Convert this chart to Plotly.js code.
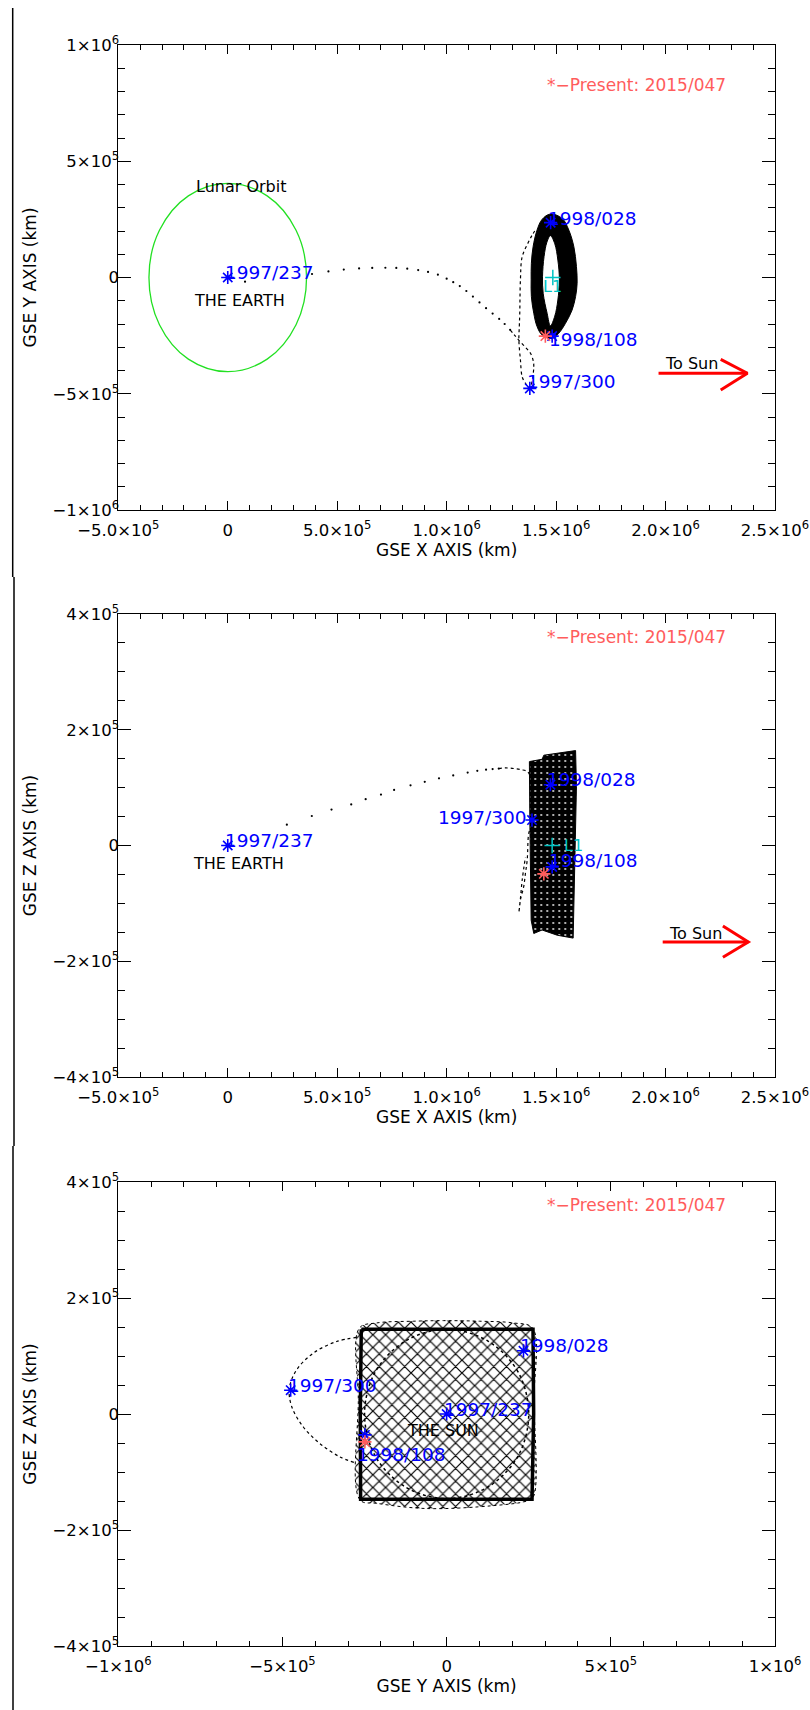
<!DOCTYPE html>
<html><head><meta charset="utf-8">
<script src="https://cdn.plot.ly/plotly-3.0.1.min.js"></script>
<style>html,body{margin:0;padding:0;background:#fff;} #chart{width:810px;height:1710px;}</style>
</head><body><div id="chart"></div>
<script>
// ---------- tick labels ----------
const xTickVals = [-5e5, 0, 5e5, 1e6, 1.5e6, 2e6, 2.5e6];
const xTickText = ['−5.0×10<sup>5</sup>', '0', '5.0×10<sup>5</sup>', '1.0×10<sup>6</sup>', '1.5×10<sup>6</sup>', '2.0×10<sup>6</sup>', '2.5×10<sup>6</sup>'];
const p1YTickVals = [-1e6, -5e5, 0, 5e5, 1e6];
const p1YTickText = ['−1×10<sup>6</sup>', '−5×10<sup>5</sup>', '0', '5×10<sup>5</sup>', '1×10<sup>6</sup>'];
const zTickVals = [-4e5, -2e5, 0, 2e5, 4e5];
const zTickText = ['−4×10<sup>5</sup>', '−2×10<sup>5</sup>', '0', '2×10<sup>5</sup>', '4×10<sup>5</sup>'];
const p3XTickVals = [-1e6, -5e5, 0, 5e5, 1e6];
const p3XTickText = ['−1×10<sup>6</sup>', '−5×10<sup>5</sup>', '0', '5×10<sup>5</sup>', '1×10<sup>6</sup>'];

// ---------- event labels ----------
const eventNames = ['1997/237', '1997/300', '1998/028', '1998/108'];
const presentText = '*−Present: 2015/047';

// ---------- panel 1 : GSE X vs Y ----------
const lunarX = [3.6e5, 3.12e5, 1.8e5, 0, -1.8e5, -3.12e5, -3.6e5, -3.12e5, -1.8e5, 0, 1.8e5, 3.12e5, 3.6e5];
const lunarY = [0, 2.03e5, 3.51e5, 4.05e5, 3.51e5, 2.03e5, 0, -2.03e5, -3.51e5, -4.05e5, -3.51e5, -2.03e5, 0];
const p1DotX = [7.9e4, 3.85e5, 4.6e5, 5.3e5, 6.0e5, 6.6e5, 7.2e5, 7.7e5, 8.2e5, 8.7e5, 9.15e5, 9.6e5, 1.0e6, 1.03e6, 1.06e6, 1.09e6, 1.12e6, 1.15e6, 1.18e6, 1.21e6, 1.24e6, 1.265e6, 1.29e6];
const p1DotY = [-1.8e4, 1.5e4, 2.6e4, 3.4e4, 3.9e4, 4.1e4, 4.2e4, 4.1e4, 3.8e4, 3.2e4, 2.4e4, 1.2e4, -5e3, -2e4, -3.7e4, -5.8e4, -8.2e4, -1.07e5, -1.32e5, -1.55e5, -1.78e5, -2.0e5, -2.25e5];
const p1LoopX = [1.29e6, 1.31e6, 1.33e6, 1.36e6, 1.383e6, 1.396e6, 1.398e6, 1.391e6, 1.38e6, 1.36e6, 1.345e6, 1.337e6, 1.33e6, 1.332e6, 1.334e6, 1.337e6, 1.345e6, 1.371e6, 1.391e6, 1.41e6];
const p1LoopY = [-2.25e5, -2.48e5, -2.7e5, -3.0e5, -3.26e5, -3.6e5, -3.84e5, -4.41e5, -4.77e5, -4.55e5, -4.27e5, -3.55e5, -2.69e5, -2.1e5, -1.54e5, -1.1e4, 8.9e4, 1.47e5, 1.83e5, 2.1e5];
const p1HaloOuterX = [1.474e6, 1.528e6, 1.558e6, 1.581e6, 1.593e6, 1.596e6, 1.589e6, 1.573e6, 1.543e6, 1.512e6, 1.482e6, 1.436e6, 1.413e6, 1.398e6, 1.387e6, 1.386e6, 1.387e6, 1.395e6, 1.413e6, 1.436e6, 1.474e6];
const p1HaloOuterY = [2.73e5, 2.54e5, 2.04e5, 1.33e5, 4.7e4, -2.5e4, -8.2e4, -1.4e5, -1.97e5, -2.4e5, -2.62e5, -2.47e5, -2.11e5, -1.54e5, -8.2e4, -1.0e4, 6.1e4, 1.33e5, 2.04e5, 2.5e5, 2.73e5];
const p1HaloInnerX = [1.474e6, 1.494e6, 1.508e6, 1.515e6, 1.508e6, 1.494e6, 1.474e6, 1.459e6, 1.441e6, 1.438e6, 1.445e6, 1.458e6, 1.474e6];
const p1HaloInnerY = [1.8e5, 1.45e5, 7.5e4, -1.1e4, -9.7e4, -1.66e5, -2.08e5, -1.54e5, -6.8e4, 3e3, 9e4, 1.52e5, 1.8e5];
const p1EventX = [0, 1.38e6, 1.475e6, 1.482e6];
const p1EventY = [0, -4.77e5, 2.36e5, -2.52e5];
const p1PresentX = [1.451e6], p1PresentY = [-2.52e5];
const p1L1X = [1.485e6], p1L1Y = [0];
const p1ArrowX = [1.968e6, 2.374e6, null, 2.252e6, 2.374e6, 2.252e6];
const p1ArrowY = [-4.12e5, -4.12e5, null, -3.52e5, -4.12e5, -4.84e5];

// ---------- panel 2 : GSE X vs Z ----------
const p2DotX = [2.7e5, 3.84e5, 4.74e5, 5.64e5, 6.3e5, 7.0e5, 7.6e5, 8.35e5, 9.0e5, 9.65e5, 1.03e6, 1.096e6, 1.14e6, 1.18e6, 1.21e6, 1.238e6];
const p2DotZ = [3.6e4, 5.1e4, 6.2e4, 7.1e4, 8.0e4, 8.8e4, 9.6e4, 1.04e5, 1.1e5, 1.16e5, 1.21e5, 1.26e5, 1.29e5, 1.31e5, 1.32e5, 1.33e5];
const p2PathX = [1.238e6, 1.27e6, 1.307e6, 1.34e6, 1.368e6, 1.381e6, 1.386e6, 1.39e6, 1.385e6, 1.375e6, 1.368e6, 1.36e6, 1.352e6, 1.337e6, 1.33e6, 1.335e6, 1.345e6, 1.36e6];
const p2PathZ = [1.33e5, 1.34e5, 1.33e5, 1.31e5, 1.28e5, 1.2e5, 8e4, 4.4e4, 3.2e4, 2.1e4, -2.5e4, -4.8e4, -7.1e4, -9.4e4, -1.16e5, -1.0e5, -6e4, -2e4];
const p2BlockX = [1.378e6, 1.436e6, 1.444e6, 1.589e6, 1.593e6, 1.586e6, 1.578e6, 1.505e6, 1.436e6, 1.398e6, 1.386e6, 1.38e6, 1.378e6];
const p2BlockZ = [1.45e5, 1.49e5, 1.56e5, 1.64e5, 1.02e5, -1.3e4, -1.6e5, -1.55e5, -1.46e5, -1.52e5, -1.29e5, 4.4e4, 1.45e5];
const p2EventX = [0, 1.39e6, 1.474e6, 1.482e6];
const p2EventZ = [0, 4.4e4, 1.05e5, -3.7e4];
const p2PresentX = [1.444e6], p2PresentZ = [-4.9e4];
const p2L1X = [1.482e6], p2L1Z = [0];
const p2ArrowX = [1.987e6, 2.378e6, null, 2.262e6, 2.378e6, 2.262e6];
const p2ArrowZ = [-1.666e5, -1.666e5, null, -1.39e5, -1.666e5, -1.93e5];

// ---------- panel 3 : GSE Y vs Z ----------
const p3BlockY = [-2.66e5, -2.13e5, -1.0e5, -1.0e4, 1.0e5, 2.03e5, 2.62e5, 2.66e5, 2.64e5, 2.44e5, 1.42e5, -6.1e4, -2.13e5, -2.64e5, -2.69e5, -2.66e5];
const p3BlockZ = [1.48e5, 1.57e5, 1.6e5, 1.61e5, 1.6e5, 1.57e5, 1.48e5, 2.4e4, -1.43e5, -1.5e5, -1.58e5, -1.63e5, -1.54e5, -1.48e5, 2.4e4, 1.48e5];
const p3RimY = [-2.6e5, 2.63e5, 2.65e5, 2.6e5, -2.62e5, -2.63e5, -2.6e5];
const p3RimZ = [1.46e5, 1.46e5, 0, -1.47e5, -1.47e5, 0, 1.46e5];
const p3RingY = [2.5e5, 2.17e5, 1.25e5, 0, -1.25e5, -2.17e5, -2.5e5, -2.17e5, -1.25e5, 0, 1.25e5, 2.17e5, 2.5e5];
const p3RingZ = [0, 7.3e4, 1.26e5, 1.46e5, 1.26e5, 7.3e4, 0, -7.3e4, -1.26e5, -1.46e5, -1.26e5, -7.3e4, 0];
const p3PathY = [-2.74e5, -3.35e5, -4.06e5, -4.57e5, -4.79e5, -4.72e5, -4.37e5, -3.86e5, -3.25e5, -2.79e5];
const p3PathZ = [1.32e5, 1.25e5, 1.05e5, 7.6e4, 4.4e4, 1.3e4, -2.2e4, -5.1e4, -7.4e4, -8.4e4];
const p3EventY = [0, -4.75e5, 2.34e5, -2.49e5];
const p3EventZ = [0, 4.1e4, 1.09e5, -3.6e4];
const p3PresentY = [-2.49e5], p3PresentZ = [-4.8e4];

// ---------- styling ----------
const FONT = 'DejaVu Sans';
const BLUE = '#0000ff', PINK = '#ff5c5c', CYAN = '#00c4c4', RED = '#ff0000';
const LBL = 18.5;

function starTrace(xa, ya, x, y, color) {
  return {type: 'scatter', mode: 'markers', x: x, y: y, xaxis: xa, yaxis: ya, hoverinfo: 'skip',
    marker: {symbol: 'asterisk-open', size: 11, color: color, line: {color: color, width: 1.6}}};
}
function plusTrace(xa, ya, x, y) {
  return {type: 'scatter', mode: 'markers', x: x, y: y, xaxis: xa, yaxis: ya, hoverinfo: 'skip',
    marker: {symbol: 'cross-thin-open', size: 11, color: CYAN, line: {color: CYAN, width: 1.5}}};
}
function lineTrace(xa, ya, x, y, opts) {
  return Object.assign({type: 'scatter', mode: 'lines', x: x, y: y, xaxis: xa, yaxis: ya, hoverinfo: 'skip'}, opts);
}

const traces = [
  // panel 1
  lineTrace('x', 'y', lunarX, lunarY, {line: {color: '#22e022', width: 1.3, shape: 'spline'}}),
  {type: 'scatter', mode: 'markers', x: p1DotX, y: p1DotY, xaxis: 'x', yaxis: 'y', hoverinfo: 'skip', marker: {size: 2.2, color: 'black'}},
  lineTrace('x', 'y', p1LoopX, p1LoopY, {line: {color: 'black', width: 1.2, dash: 'dot', shape: 'spline'}}),
  lineTrace('x', 'y', p1HaloOuterX, p1HaloOuterY, {line: {color: 'black', width: 1, shape: 'spline'}, fill: 'toself', fillcolor: 'black'}),
  lineTrace('x', 'y', p1HaloInnerX, p1HaloInnerY, {line: {color: 'black', width: 1, shape: 'spline'}, fill: 'toself', fillcolor: 'white'}),
  lineTrace('x', 'y', p1ArrowX, p1ArrowY, {line: {color: RED, width: 3}}),
  plusTrace('x', 'y', p1L1X, p1L1Y),
  starTrace('x', 'y', p1EventX, p1EventY, BLUE),
  starTrace('x', 'y', p1PresentX, p1PresentY, PINK),
  // panel 2
  {type: 'scatter', mode: 'markers', x: p2DotX, y: p2DotZ, xaxis: 'x2', yaxis: 'y2', hoverinfo: 'skip', marker: {size: 2.2, color: 'black'}},
  lineTrace('x2', 'y2', p2PathX, p2PathZ, {line: {color: 'black', width: 1.2, dash: 'dot', shape: 'spline'}}),
  lineTrace('x2', 'y2', p2BlockX, p2BlockZ, {line: {color: 'black', width: 1}, fill: 'toself', fillcolor: 'black',
    fillpattern: {shape: '.', bgcolor: 'black', fgcolor: 'white', size: 6, solidity: 0.07}}),
  lineTrace('x2', 'y2', p2ArrowX, p2ArrowZ, {line: {color: RED, width: 3}}),
  plusTrace('x2', 'y2', p2L1X, p2L1Z),
  starTrace('x2', 'y2', p2EventX, p2EventZ, BLUE),
  starTrace('x2', 'y2', p2PresentX, p2PresentZ, PINK),
  // panel 3
  lineTrace('x3', 'y3', p3BlockY, p3BlockZ, {line: {color: 'black', width: 1, dash: 'dot', shape: 'spline'}, fill: 'toself', fillcolor: 'white',
    fillpattern: {shape: 'x', bgcolor: 'white', fgcolor: 'black', size: 9, solidity: 0.25}}),
  lineTrace('x3', 'y3', p3RingY, p3RingZ, {line: {color: 'black', width: 1.5, dash: 'dot', shape: 'spline'}}),
  lineTrace('x3', 'y3', p3RimY, p3RimZ, {line: {color: 'black', width: 3.5}}),
  lineTrace('x3', 'y3', p3PathY, p3PathZ, {line: {color: 'black', width: 1.2, dash: 'dot', shape: 'spline'}}),
  starTrace('x3', 'y3', p3EventY, p3EventZ, BLUE),
  starTrace('x3', 'y3', p3PresentY, p3PresentZ, PINK)
];

function ann(xref, yref, x, y, text, color, size, xanchor, yshift, xshift) {
  return {xref: xref, yref: yref, x: x, y: y, text: text, showarrow: false, xanchor: xanchor || 'left', yanchor: 'middle',
    yshift: yshift || 0, xshift: xshift || 0, font: {family: FONT, size: size, color: color}};
}

const annotations = [];
// panel 1
annotations.push(ann('x', 'y', p1EventX[0], p1EventY[0], eventNames[0], BLUE, LBL, 'left', 5, -5));
annotations.push(ann('x', 'y', p1EventX[1], p1EventY[1], eventNames[1], BLUE, LBL, 'left', 7, -5));
annotations.push(ann('x', 'y', p1EventX[2], p1EventY[2], eventNames[2], BLUE, LBL, 'left', 4, -5));
annotations.push(ann('x', 'y', p1EventX[3], p1EventY[3], eventNames[3], BLUE, LBL, 'left', -3, -5));
annotations.push(ann('x', 'y', 5.2e4, -1.01e5, 'THE EARTH', 'black', 16, 'center'));
annotations.push(ann('x', 'y', 6.1e4, 3.93e5, 'Lunar Orbit', 'black', 16, 'center'));
annotations.push(ann('x', 'y', 1.485e6, -3.7e4, 'L1', CYAN, 16, 'center'));
annotations.push(ann('x', 'y', 2.117e6, -3.68e5, 'To Sun', 'black', 16, 'center'));
annotations.push(ann('x', 'y', 1.45e6, 8.26e5, presentText, PINK, 17, 'left'));
// panel 2
annotations.push(ann('x2', 'y2', p2EventX[0], p2EventZ[0], eventNames[0], BLUE, LBL, 'left', 5, -5));
annotations.push(ann('x2', 'y2', p2EventX[1], p2EventZ[1], eventNames[1], BLUE, LBL, 'right', 3, -3));
annotations.push(ann('x2', 'y2', p2EventX[2], p2EventZ[2], eventNames[2], BLUE, LBL, 'left', 5, -5));
annotations.push(ann('x2', 'y2', p2EventX[3], p2EventZ[3], eventNames[3], BLUE, LBL, 'left', 6, -5));
annotations.push(ann('x2', 'y2', 5.1e4, -3.1e4, 'THE EARTH', 'black', 16, 'center'));
annotations.push(ann('x2', 'y2', 1.528e6, 0, 'L1', CYAN, 16, 'left'));
annotations.push(ann('x2', 'y2', 2.135e6, -1.52e5, 'To Sun', 'black', 16, 'center'));
annotations.push(ann('x2', 'y2', 1.45e6, 3.6e5, presentText, PINK, 17, 'left'));
// panel 3
annotations.push(ann('x3', 'y3', p3EventY[0], p3EventZ[0], eventNames[0], BLUE, LBL, 'left', 5, -5));
annotations.push(ann('x3', 'y3', p3EventY[1], p3EventZ[1], eventNames[1], BLUE, LBL, 'left', 5, -5));
annotations.push(ann('x3', 'y3', p3EventY[2], p3EventZ[2], eventNames[2], BLUE, LBL, 'left', 5, -5));
annotations.push(ann('x3', 'y3', -2.8e5, -7.0e4, eventNames[3], BLUE, LBL, 'left'));
annotations.push(ann('x3', 'y3', -1.2e4, -2.9e4, 'THE SUN', 'black', 16, 'center'));
annotations.push(ann('x3', 'y3', 3.0e5, 3.6e5, presentText, PINK, 17, 'left'));

const H = 1710, W = 810;
const xDom = [118.3 / W, 775 / W];
function yDom(top, bottom) { return [1 - bottom / H, 1 - top / H]; }

function xAxis(range, dom, anchor, vals, text, minor, title) {
  return {range: range, domain: dom, anchor: anchor, tickmode: 'array', tickvals: vals, ticktext: text,
    ticks: 'inside', ticklen: 9, tickwidth: 1, tickcolor: 'black', showline: true, linecolor: 'black', linewidth: 1,
    mirror: 'ticks', showgrid: false, zeroline: false, fixedrange: true, ticklabelstandoff: 5,
    minor: {tickmode: 'linear', tick0: 0, dtick: minor, ticks: 'inside', ticklen: 5, tickcolor: 'black', tickwidth: 1, showgrid: false},
    tickfont: {family: FONT, size: 16.5, color: 'black'},
    title: {text: title, font: {family: FONT, size: 17, color: 'black'}, standoff: 5}};
}
function yAxis(range, dom, anchor, vals, text, minor, title) {
  const a = xAxis(range, dom, anchor, vals, text, minor, title);
  a.ticklen = 13; a.minor.ticklen = 7; a.title.standoff = 11; a.ticklabelstandoff = -5;
  return a;
}

const layout = {
  width: W, height: H, margin: {l: 0, r: 0, t: 0, b: 0}, showlegend: false,
  paper_bgcolor: 'white', plot_bgcolor: 'white',
  xaxis: xAxis([-5e5, 2.5e6], xDom, 'y', xTickVals, xTickText, 1e5, 'GSE X AXIS (km)'),
  yaxis: yAxis([-1e6, 1e6], yDom(45, 510), 'x', p1YTickVals, p1YTickText, 1e5, 'GSE Y AXIS (km)'),
  xaxis2: xAxis([-5e5, 2.5e6], xDom, 'y2', xTickVals, xTickText, 1e5, 'GSE X AXIS (km)'),
  yaxis2: yAxis([-4e5, 4e5], yDom(614, 1077), 'x2', zTickVals, zTickText, 5e4, 'GSE Z AXIS (km)'),
  xaxis3: xAxis([-1e6, 1e6], xDom, 'y3', p3XTickVals, p3XTickText, 1e5, 'GSE Y AXIS (km)'),
  yaxis3: yAxis([-4e5, 4e5], yDom(1182, 1646), 'x3', zTickVals, zTickText, 5e4, 'GSE Z AXIS (km)'),
  annotations: annotations,
  shapes: [
    {type: 'line', xref: 'paper', yref: 'paper', x0: 12.7 / W, x1: 12.7 / W, y0: 1 - 8 / H, y1: 1 - 577 / H, line: {color: 'black', width: 1.5}},
    {type: 'line', xref: 'paper', yref: 'paper', x0: 14 / W, x1: 14 / W, y0: 1 - 577 / H, y1: 1 - 1146 / H, line: {color: 'black', width: 1.5}},
    {type: 'line', xref: 'paper', yref: 'paper', x0: 13 / W, x1: 13 / W, y0: 1 - 1146 / H, y1: 0, line: {color: 'black', width: 1.5}}
  ]
};

Plotly.newPlot('chart', traces, layout, {staticPlot: true, displayModeBar: false});
</script></body></html>
